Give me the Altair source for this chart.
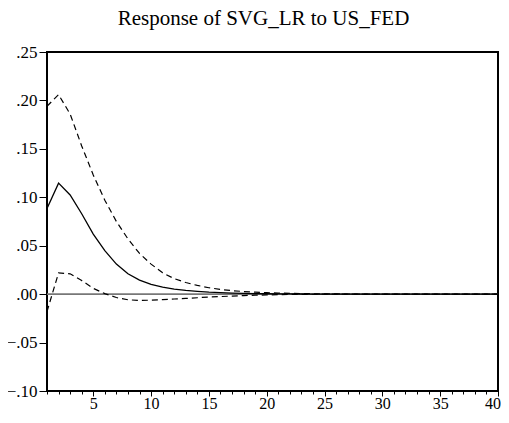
import altair as alt
import pandas as pd

steps = list(range(1, 41))

response = [0.0885, 0.1146, 0.1024, 0.083, 0.062, 0.045, 0.031, 0.021, 0.0145, 0.010,
            0.0072, 0.0052, 0.0038, 0.0028, 0.0020, 0.0015, 0.0011, 0.0008, 0.0006, 0.0004,
            0.0003, 0.0002, 0.00015, 0.0001, 0.00008, 0.00006, 0.00004, 0.00003, 0.00002, 0.00002,
            0.00001, 0.00001, 0.00001, 0.0, 0.0, 0.0, 0.0, 0.0, 0.0, 0.0]

upper = [0.194, 0.206, 0.186, 0.153, 0.123, 0.097, 0.075, 0.057, 0.042, 0.031,
         0.022, 0.016, 0.012, 0.009, 0.0066, 0.0049, 0.0036, 0.0027, 0.0020, 0.0015,
         0.0011, 0.0008, 0.0006, 0.0004, 0.0003, 0.0002, 0.00015, 0.0001, 0.00008, 0.00006,
         0.00004, 0.00003, 0.00002, 0.00002, 0.00001, 0.00001, 0.0, 0.0, 0.0, 0.0]

lower = [-0.018, 0.022, 0.021, 0.014, 0.006, 0.0005, -0.0035, -0.0058, -0.0065, -0.0062,
         -0.0057, -0.0050, -0.0044, -0.0037, -0.0030, -0.0025, -0.0020, -0.0015, -0.0011, -0.0008,
         -0.0005, -0.0003, -0.0002, -0.0001, -0.00008, -0.00006, -0.00004, -0.00003, -0.00002, -0.00002,
         -0.00001, -0.00001, -0.00001, 0.0, 0.0, 0.0, 0.0, 0.0, 0.0, 0.0]

y_ticks = [-0.10, -0.05, 0.00, 0.05, 0.10, 0.15, 0.20, 0.25]
zero = [0.0]

FONT = "Liberation Serif"

df = pd.DataFrame({"step": steps, "response": response, "upper": upper, "lower": lower})
long = df.melt(id_vars="step", value_vars=["upper", "lower"], var_name="band", value_name="value")

x_scale = alt.Scale(domain=[1, 40], nice=False, zero=False)
y_scale = alt.Scale(domain=[-0.10, 0.25], nice=False, zero=False)

x_axis = alt.Axis(
    values=steps, tickCount=40,
    labelExpr="datum.value % 5 === 0 ? datum.label : ''",
    tickSize=alt.ConditionalAxisNumber(condition={"test": "datum.value % 5 === 0", "value": 5}, value=3),
    tickColor="black", tickWidth=1, domain=False, grid=False,
    labelFont=FONT, labelFontSize=16, labelColor="black", labelPadding=-1,
    labelFlush=True, labelFlushOffset=2.5, labelOverlap=False, title=None,
)
y_axis = alt.Axis(
    values=y_ticks, tickCount=8,
    labelExpr="replace(format(datum.value, '.2f'), '0.', '.')",
    tickSize=8, tickColor="black", tickWidth=1, domain=False, grid=False,
    labelFont=FONT, labelFontSize=17, labelColor="black", labelPadding=2,
    labelFlush=False, labelOverlap=False, title=None,
)

zero_line = alt.Chart(pd.DataFrame({"y": zero})).mark_rule(color="#777777", strokeWidth=1.6).encode(
    y=alt.Y("y:Q", scale=y_scale, axis=y_axis)
)

bands = alt.Chart(long).mark_line(color="black", strokeWidth=1.2, strokeDash=[6, 4]).encode(
    x=alt.X("step:Q", scale=x_scale, axis=x_axis),
    y=alt.Y("value:Q", scale=y_scale),
    detail="band:N",
)

resp = alt.Chart(df).mark_line(color="black", strokeWidth=1.3).encode(
    x=alt.X("step:Q", scale=x_scale),
    y=alt.Y("response:Q", scale=y_scale),
)

chart = alt.layer(zero_line, bands, resp).properties(
    width=451,
    height=339,
    autosize=alt.AutoSizeParams(type="none"),
    padding={"left": 39, "top": 44, "right": 3, "bottom": 20},
    title=alt.TitleParams(
        "Response of SVG_LR to US_FED",
        font=FONT, fontSize=21, fontWeight="normal", color="black",
        anchor="middle", baseline="bottom", offset=-7, dx=-9,
    ),
).configure_view(stroke="black", strokeWidth=2)

chart.save("out.html", embed_options={"renderer": "svg", "actions": False})
